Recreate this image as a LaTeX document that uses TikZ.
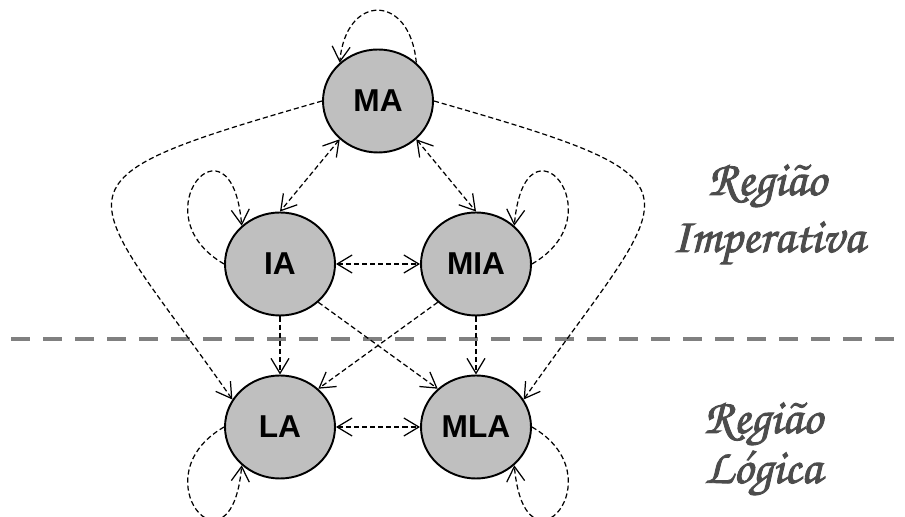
\documentclass[tikz,border=0pt]{standalone}
\usepackage{fontspec}
\setsansfont{Liberation Sans}
\newfontfamily\chorusfont[FakeBold=1.8]{TeX Gyre Chorus}
\usetikzlibrary{shapes.geometric,arrows.meta}

\begin{document}
\begin{tikzpicture}[
		>={Straight Barb[length=3mm,width=3.6mm]},
		agent/.style={ellipse, draw=black, line width=1.1pt, fill=lightgray,
			minimum width=2.2cm, minimum height=2.06cm, inner sep=0pt,
			font=\sffamily\bfseries\fontsize{18}{18}\selectfont},
		link/.style={black, line width=0.7pt, dash pattern=on 2.9pt off 1.7pt},
		region/.style={text=black!70, anchor=base, inner sep=0pt,
			font=\chorusfont\fontsize{28}{28}\selectfont},
		divider/.style={black!50, line width=2.8pt, dash pattern=on 0.38cm off 0.26cm}
	]
		\useasboundingbox (0,0) rectangle (18.1,10.34);
		\draw[divider] (0.22,3.56) -- (18.1,3.56);
		\node[agent] (MA) at (7.56, 8.32) {MA};
		\node[agent] (IA) at (5.60, 5.06) {IA};
		\node[agent] (MIA) at (9.52, 5.06) {MIA};
		\node[agent] (LA) at (5.60, 1.80) {LA};
		\node[agent] (MLA) at (9.52, 1.80) {MLA};
		\draw[link,<->] (MA.225) -- (IA.90);
		\draw[link,<->] (MA.315) -- (MIA.90);
		\draw[link,<->] (IA.0) -- (MIA.180);
		\draw[link,<->] (LA.0) -- (MLA.180);
		\draw[link,->] (IA.270) -- (LA.90);
		\draw[link,->] (MIA.270) -- (MLA.90);
		\draw[link,->] (IA.315) -- (MLA.135);
		\draw[link,->] (MIA.225) -- (LA.45);
		\draw[link,->] (MA.180) .. controls +(196:6) and +(125:5.3) .. (LA.150);
		\draw[link,->] (MA.0) .. controls +(-16:6) and +(55:5.3) .. (MLA.30);
		\draw[link,->] (MA.45) .. controls +(95:1.4) and +(85:1.4) .. (MA.135);
		\draw[link,->] (IA.180) .. controls +(150:2) and +(95:2.4) .. (IA.135);
		\draw[link,->] (MIA.0) .. controls +(30:2) and +(85:2.4) .. (MIA.45);
		\draw[link,->] (LA.180) .. controls +(210:2) and +(265:2.4) .. (LA.225);
		\draw[link,->] (MLA.0) .. controls +(330:2) and +(275:2.4) .. (MLA.315);
		\node[region] (imp1) at (15.34, 6.44) {Região};
		\node[region] (imp2) at (15.36, 5.30) {Imperativa};
		\node[region] (log1) at (15.26, 1.68) {Região};
		\node[region] (log2) at (15.26, 0.68) {Lógica};
	\end{tikzpicture}
\end{document}
